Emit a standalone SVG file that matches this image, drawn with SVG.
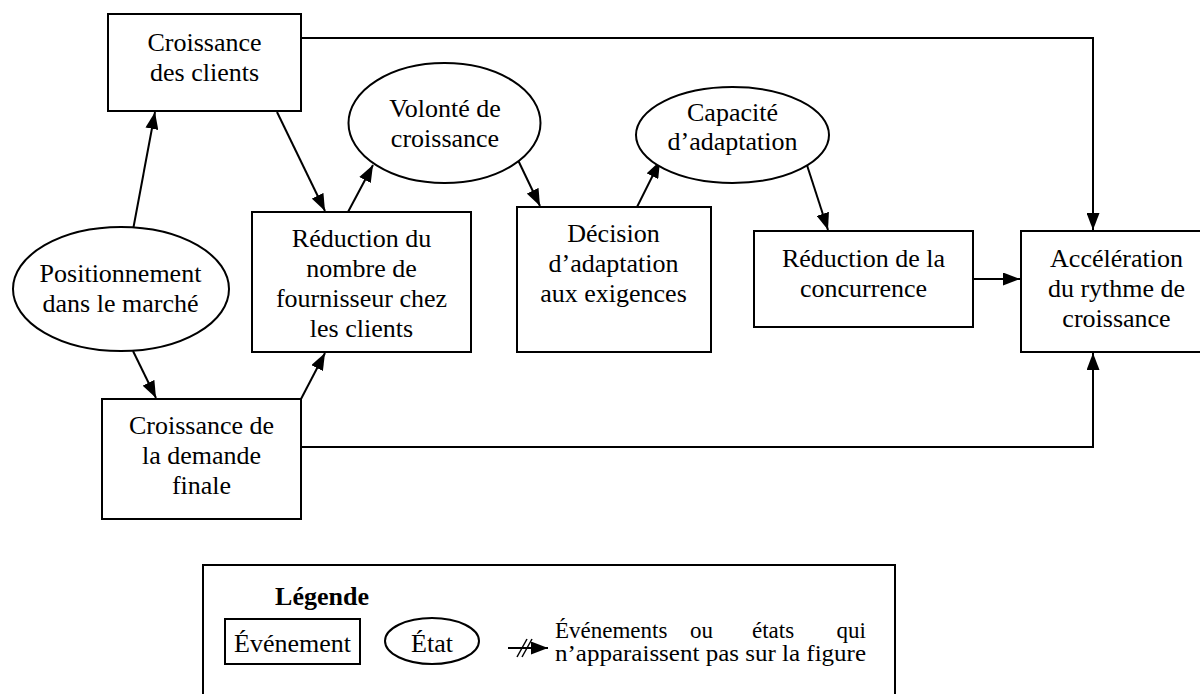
<svg xmlns="http://www.w3.org/2000/svg" width="1200" height="694" viewBox="0 0 1200 694">
  <style>
    .box { fill: #fff; stroke: #000; stroke-width: 2; }
    .lbl { font-family: 'Liberation Serif', 'Times New Roman', serif; font-size: 26px; fill: #000; text-anchor: middle; }
    .leg { font-family: 'Liberation Serif', 'Times New Roman', serif; font-size: 23px; fill: #000; }
    .edge { fill: none; stroke: #000; stroke-width: 2; }
  </style>
  <defs>
    <marker id="arrow" markerUnits="userSpaceOnUse" markerWidth="17" markerHeight="13" refX="17" refY="6.5" orient="auto">
      <path d="M0,0 L17,6.5 L0,13 Z" fill="#000"/>
    </marker>
  </defs>
  <rect width="1200" height="694" fill="#fff"/>

  <!-- connectors -->
  <g id="connectors">
    <polyline class="edge" points="301,38 1093,38 1093,230" marker-end="url(#arrow)"/>
    <polyline class="edge" points="301,447 1093,447 1093,353" marker-end="url(#arrow)"/>
    <line class="edge" x1="133" y1="230" x2="155" y2="112" marker-end="url(#arrow)"/>
    <line class="edge" x1="277" y1="112" x2="325" y2="211" marker-end="url(#arrow)"/>
    <line class="edge" x1="348" y1="212" x2="373" y2="165" marker-end="url(#arrow)"/>
    <line class="edge" x1="517" y1="158" x2="540" y2="206" marker-end="url(#arrow)"/>
    <line class="edge" x1="637" y1="207" x2="660" y2="161" marker-end="url(#arrow)"/>
    <line class="edge" x1="805" y1="159" x2="828" y2="230" marker-end="url(#arrow)"/>
    <line class="edge" x1="973" y1="279" x2="1020" y2="279" marker-end="url(#arrow)"/>
    <line class="edge" x1="133" y1="351" x2="156" y2="398" marker-end="url(#arrow)"/>
    <line class="edge" x1="301" y1="399" x2="325" y2="353" marker-end="url(#arrow)"/>
  </g>

  <g id="croissance-clients">
    <rect class="box" x="108" y="14" width="193" height="97"/>
    <text class="lbl" x="204.5" y="51">Croissance</text>
    <text class="lbl" x="204.5" y="81">des clients</text>
  </g>

  <g id="volonte-croissance">
    <ellipse class="box" cx="444.5" cy="123" rx="96" ry="60"/>
    <text class="lbl" x="445" y="117">Volonté de</text>
    <text class="lbl" x="445" y="147">croissance</text>
  </g>

  <g id="capacite-adaptation">
    <ellipse class="box" cx="732.5" cy="135" rx="96.5" ry="48"/>
    <text class="lbl" x="732.5" y="121">Capacité</text>
    <text class="lbl" x="732.5" y="150">d’adaptation</text>
  </g>

  <g id="reduction-fournisseurs">
    <rect class="box" x="252" y="212" width="219" height="140"/>
    <text class="lbl" x="361.5" y="247">Réduction du</text>
    <text class="lbl" x="361.5" y="277">nombre de</text>
    <text class="lbl" x="361.5" y="307">fournisseur chez</text>
    <text class="lbl" x="361.5" y="337">les clients</text>
  </g>

  <g id="decision-adaptation">
    <rect class="box" x="517" y="207" width="194" height="145"/>
    <text class="lbl" x="613.5" y="242">Décision</text>
    <text class="lbl" x="613.5" y="272">d’adaptation</text>
    <text class="lbl" x="613.5" y="302">aux exigences</text>
  </g>

  <g id="reduction-concurrence">
    <rect class="box" x="754" y="231" width="219" height="96"/>
    <text class="lbl" x="863.5" y="267">Réduction de la</text>
    <text class="lbl" x="863.5" y="297">concurrence</text>
  </g>

  <g id="acceleration-rythme">
    <rect class="box" x="1021" y="231" width="192" height="121"/>
    <text class="lbl" x="1116.5" y="267">Accélération</text>
    <text class="lbl" x="1116.5" y="297">du rythme de</text>
    <text class="lbl" x="1116.5" y="327">croissance</text>
  </g>

  <g id="positionnement-marche">
    <ellipse class="box" cx="121" cy="289" rx="108" ry="62"/>
    <text class="lbl" x="120.5" y="282">Positionnement</text>
    <text class="lbl" x="120.5" y="312">dans le marché</text>
  </g>

  <g id="croissance-demande">
    <rect class="box" x="102" y="399" width="199" height="120"/>
    <text class="lbl" x="201.5" y="434">Croissance de</text>
    <text class="lbl" x="201.5" y="464">la demande</text>
    <text class="lbl" x="201.5" y="494">finale</text>
  </g>

  <!-- legend -->
  <g id="legende">
    <rect class="box" x="203" y="565" width="692" height="140"/>
    <text x="322" y="605" text-anchor="middle" font-family="'Liberation Serif', serif" font-size="26" font-weight="bold">Légende</text>
    <rect class="box" x="225" y="619" width="135" height="45"/>
    <text class="lbl" x="292.5" y="652">Événement</text>
    <ellipse class="box" cx="432" cy="641" rx="47" ry="23"/>
    <text class="lbl" x="432" y="652">État</text>
    <line class="edge" x1="508" y1="648" x2="548" y2="648" marker-end="url(#arrow)"/>
    <line stroke="#000" stroke-width="1.5" x1="517" y1="657" x2="527" y2="639"/>
    <line stroke="#000" stroke-width="1.5" x1="522" y1="657" x2="532" y2="639"/>
    <text class="leg" y="638"><tspan x="555">Événements</tspan><tspan x="690">ou</tspan><tspan x="752">états</tspan><tspan x="866" text-anchor="end">qui</tspan></text>
    <text class="leg" x="555" y="661" textLength="311" lengthAdjust="spacingAndGlyphs">n’apparaissent pas sur la figure</text>
  </g>
</svg>
